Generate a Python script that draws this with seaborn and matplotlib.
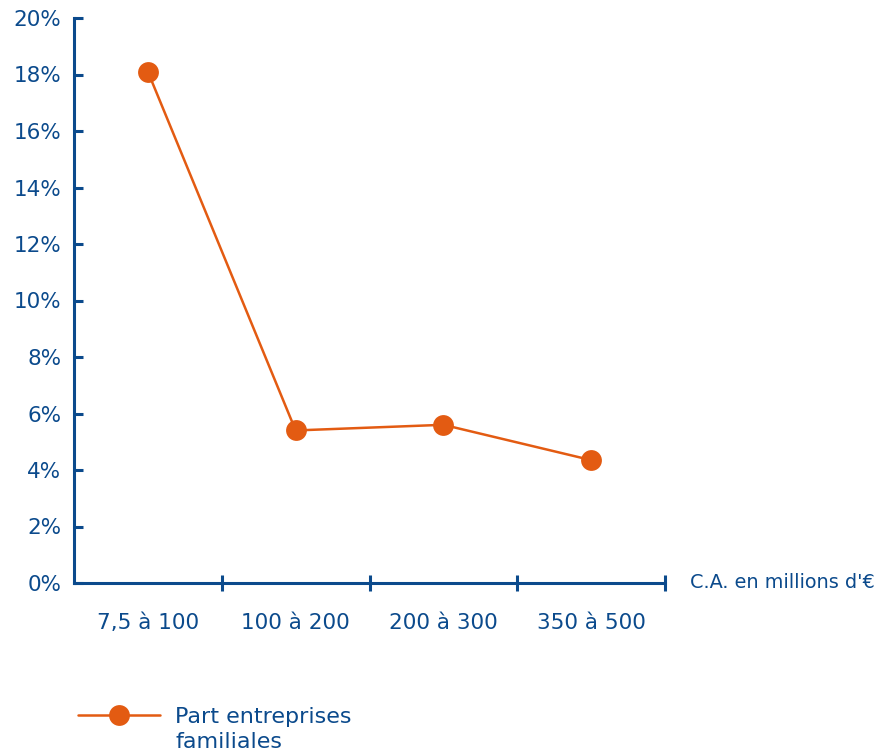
import matplotlib
matplotlib.use("Agg")
import matplotlib.pyplot as plt
import seaborn as sns
import pandas as pd
import numpy as np

categories = ["7,5 à 100", "100 à 200", "200 à 300", "350 à 500"]
part_familiales = [18.1, 5.4, 5.6, 4.35]
y_ticks = [0, 2, 4, 6, 8, 10, 12, 14, 16, 18, 20]
series_name_lines = ["Part entreprises", "familiales"]
x_title = "C.A. en millions d'€"

BLUE = "#0b4a8c"
ORANGE = "#e35b12"

sns.set_theme(style="white")
plt.rcParams["font.family"] = ["DejaVu Sans"]

df = pd.DataFrame({"x": np.arange(len(categories)), "y": part_familiales})

fig = plt.figure(figsize=(8.77, 7.51), dpi=100)
ax = fig.add_axes([74/877, 1-583/751, (665-74)/877, (583-18)/751])

sns.lineplot(data=df, x="x", y="y", ax=ax, color=ORANGE, linewidth=1.8,
             marker="o", markersize=15, markeredgewidth=0,
             label=series_name_lines[0])

ax.set_xlim(-0.5, len(categories) - 0.5)
ax.set_ylim(0, 20)
ax.set_yticks(y_ticks)
ax.set_yticklabels([f"{t}%" for t in y_ticks])

# boundaries as major ticks, category labels as minor ticks
ax.set_xticks(np.arange(len(categories)) + 0.5)
ax.set_xticklabels([])
ax.set_xticks(np.arange(len(categories)), minor=True)
ax.set_xticklabels(categories, minor=True)

for side in ["top", "right"]:
    ax.spines[side].set_visible(False)
for side in ["left", "bottom"]:
    ax.spines[side].set_color(BLUE)
    ax.spines[side].set_linewidth(2.2)

ax.tick_params(axis="y", direction="in", length=6.5, width=2.2, color=BLUE,
               labelcolor=BLUE, labelsize=15.5, pad=9, left=True)
ax.tick_params(axis="x", which="major", direction="inout", length=12, width=2.2,
               color=BLUE, bottom=True)
ax.tick_params(axis="x", which="minor", length=0, labelcolor=BLUE,
               labelsize=15.5, pad=21.5)
ax.set_xlabel("")
ax.set_ylabel("")

fig.text(690/877, 1-583/751, x_title, color=BLUE, fontsize=13.9,
         ha="left", va="center")

leg = ax.legend(loc="center left", bbox_to_anchor=(78/877, 1-717/751),
                bbox_transform=fig.transFigure, frameon=False,
                handlelength=3.7, handletextpad=0.68, fontsize=16,
                borderaxespad=0, borderpad=0)
for t in leg.get_texts():
    t.set_color(BLUE)

fig.text(175/877, 1-742/751, series_name_lines[1], color=BLUE, fontsize=16,
         ha="left", va="center")

ax.grid(False)
fig.savefig("out.png", dpi=100)
